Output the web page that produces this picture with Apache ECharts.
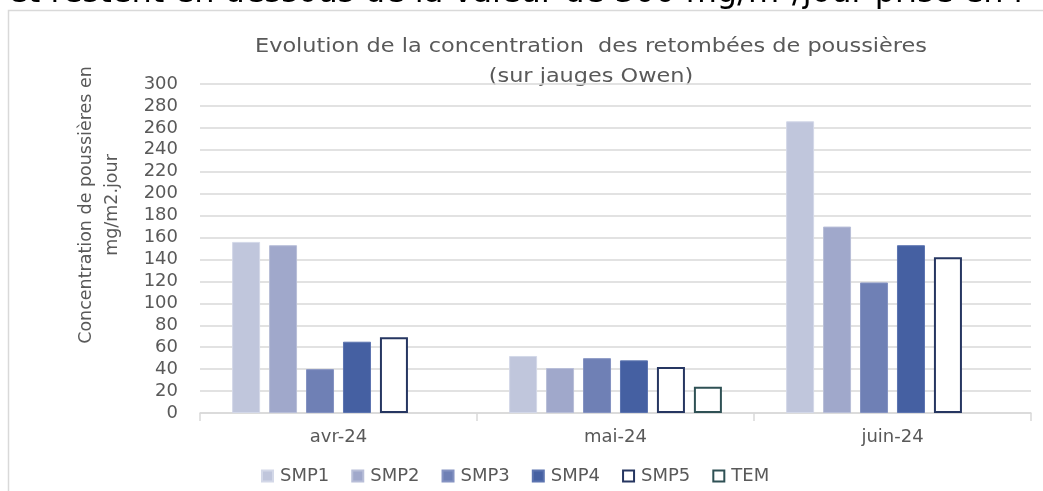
<!DOCTYPE html>
<html>
<head>
<meta charset="utf-8">
<script src="https://cdn.jsdelivr.net/npm/echarts@6/dist/echarts.min.js"></script>
<style>
html,body{margin:0;padding:0;background:#fff;}
#c{width:1043px;height:491px;}
</style>
</head>
<body>
<div id="c"></div>
<script>
const categories = ['avr-24', 'mai-24', 'juin-24'];
const seriesNames = ['SMP1', 'SMP2', 'SMP3', 'SMP4', 'SMP5', 'TEM'];
const SMP1 = [156, 52, 266];
const SMP2 = [153, 41, 170];
const SMP3 = [40, 50, 119];
const SMP4 = [65, 48, 153];
const SMP5 = [69, 42, 142];
const TEM = [null, 24, null];
const yTicks = { min: 0, max: 300, interval: 20 };

const font = 'DejaVu Sans';
const gray = '#595959';
const styles = [
  { color: '#c0c6dc', borderColor: '#d3d8e8', borderWidth: 1 },
  { color: '#a0a8cb', borderColor: '#b8bed8', borderWidth: 1 },
  { color: '#6f80b5', borderColor: '#8593c2', borderWidth: 1 },
  { color: '#4560a2', borderColor: '#5c74b0', borderWidth: 1 },
  { color: '#ffffff', borderColor: '#263661', borderWidth: 2 },
  { color: '#ffffff', borderColor: '#2f5155', borderWidth: 2 }
];
const values = [SMP1, SMP2, SMP3, SMP4, SMP5, TEM];

const chart = echarts.init(document.getElementById('c'), null, { renderer: 'canvas' });
chart.setOption({
  animation: false,
  backgroundColor: '#fff',
  textStyle: { fontFamily: font },
  graphic: [
    { type: 'rect', shape: { x: 8.5, y: 10.5, width: 1100, height: 600 }, style: { fill: 'none', stroke: '#d9d9d9', lineWidth: 1.5 }, silent: true },
    { type: 'text', x: 8, y: -22, style: { text: 'et restent en dessous de la valeur de 300 mg/m²/jour prise en r', font: '32px "DejaVu Sans"', fill: '#000', textAlign: 'left', textVerticalAlign: 'top' } },
    { type: 'text', x: 591, y: 62, scaleX: 1.12, style: { text: 'Evolution de la concentration  des retombées de poussières\n(sur jauges Owen)', font: '20px "DejaVu Sans"', fill: gray, textAlign: 'center', textVerticalAlign: 'middle', lineHeight: 30 } },
    { type: 'text', x: 99.5, y: 205, rotation: Math.PI / 2, style: { text: 'Concentration de poussières en\nmg/m2.jour', font: '17.5px "DejaVu Sans"', fill: gray, textAlign: 'center', textVerticalAlign: 'middle', lineHeight: 26 } }
  ],
  legend: {
    data: seriesNames,
    left: 256, top: 462,
    itemWidth: 11, itemHeight: 11, itemGap: 22,
    icon: 'rect',
    textStyle: { fontFamily: font, fontSize: 18, color: gray, padding: [0, 0, 0, 2] }
  },
  grid: { left: 200, right: 12, top: 84, bottom: 78, containLabel: false },
  xAxis: {
    type: 'category', data: categories,
    axisLine: { lineStyle: { color: '#d9d9d9', width: 1.5 } },
    axisTick: { show: true, length: 8, lineStyle: { color: '#d9d9d9', width: 1.5 } },
    axisLabel: { fontFamily: font, fontSize: 18, color: gray, margin: 15 }
  },
  yAxis: {
    type: 'value', min: yTicks.min, max: yTicks.max, interval: yTicks.interval,
    axisLine: { show: false }, axisTick: { show: false },
    axisLabel: { fontFamily: font, fontSize: 18, color: gray, margin: 22 },
    splitLine: { lineStyle: { color: '#d9d9d9', width: 1.5 } }
  },
  series: seriesNames.map((n, i) => ({
    name: n, type: 'bar', data: values[i], barWidth: 28, barGap: '32%',
    itemStyle: styles[i]
  }))
});
</script>
</body>
</html>
